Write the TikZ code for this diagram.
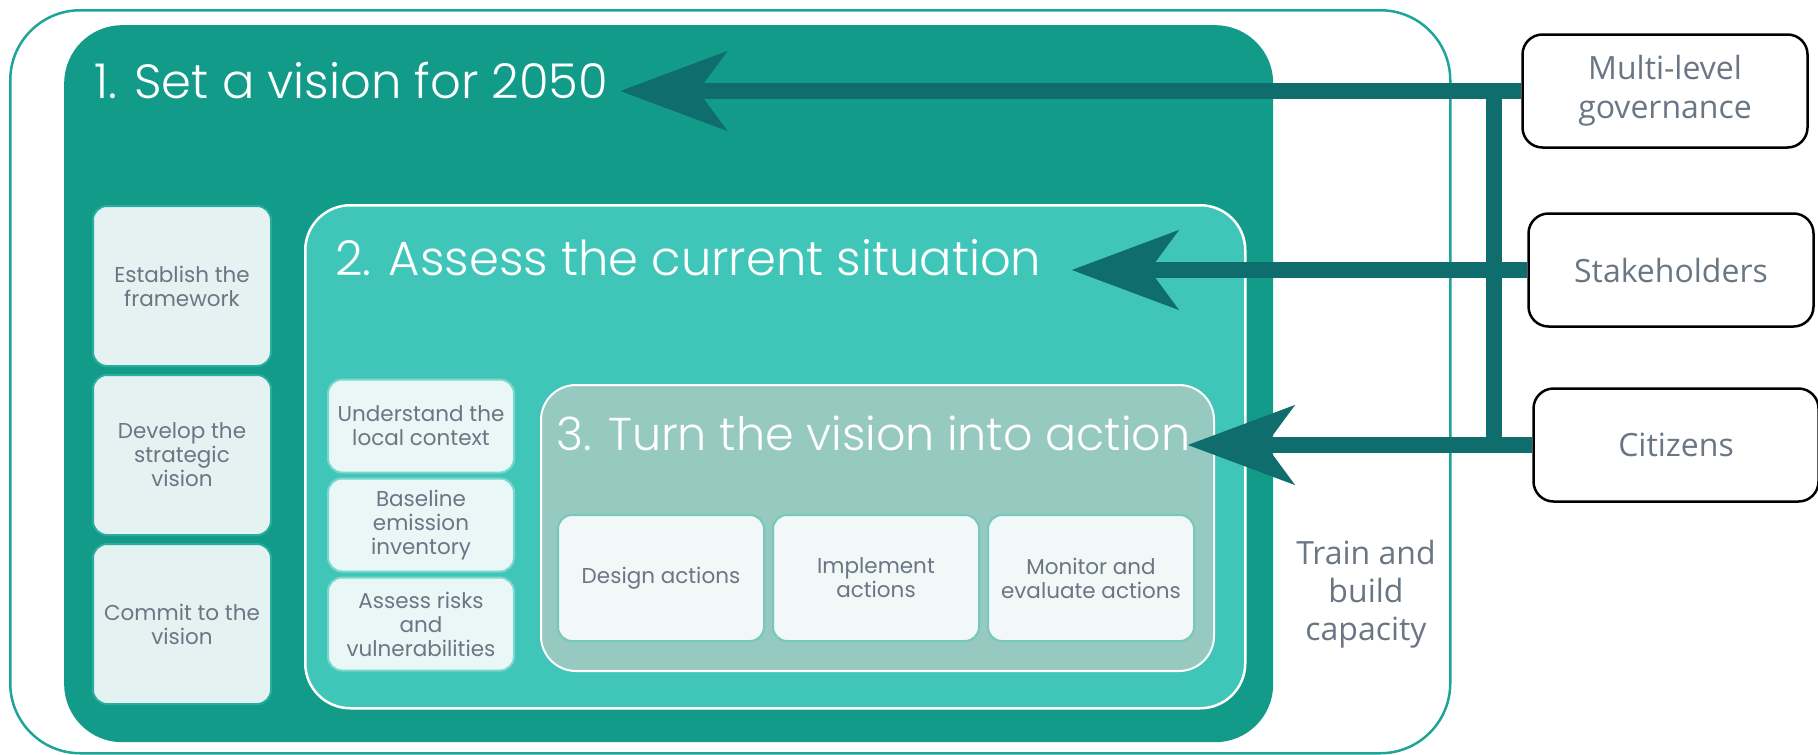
\documentclass[tikz,border=0pt]{standalone}
\usepackage{fontspec}
\setmainfont{Poppins}
\newfontfamily\lightfont{Poppins Light}
\newfontfamily\opensans{Open Sans}
\usetikzlibrary{arrows.meta,positioning}

\definecolor{framecol}{HTML}{1FA597}
\definecolor{deepteal}{HTML}{139B8A}
\definecolor{midteal}{HTML}{40C6B8}
\definecolor{greyteal}{HTML}{96C9BF}
\definecolor{arrowteal}{HTML}{0F6D6D}
\definecolor{boxtext}{HTML}{6B7685}
\definecolor{paleA}{HTML}{E4F2F1}
\definecolor{paleB}{HTML}{E9F7F6}
\definecolor{paleC}{HTML}{F2F8F8}

\begin{document}
\begin{tikzpicture}[x=1pt,y=-1pt]
\tikzstyle{panel}=[rectangle,anchor=north west,inner sep=0pt]
\tikzstyle{title}=[anchor=base west,inner sep=0pt,text=white,
font=\lightfont\fontsize{48}{58}\selectfont]
\tikzstyle{stepbox}=[rectangle,rounded corners=14pt,line width=2pt,
text=boxtext,align=center,font=\fontsize{21.5}{24}\selectfont]
\tikzstyle{actor}=[rectangle,rounded corners=20pt,draw=black,line width=2.5pt,
fill=white,text=boxtext,align=center,minimum width=285pt,minimum height=113pt,
font=\opensans\fontsize{32}{39}\selectfont]
\tikzstyle{link}=[draw=arrowteal,line width=16pt,
-{Stealth[length=106pt,width=78pt,inset=28pt]}]
\tikzstyle{wire}=[draw=arrowteal,line width=16pt]

\useasboundingbox (0,0) rectangle (1818,755);

% nested stages
\node[panel,draw=framecol,line width=2.5pt,fill=white,rounded corners=70pt,
minimum width=1440pt,minimum height=743pt] (frame) at (9,9) {};
\node[panel,fill=deepteal,rounded corners=58pt,
minimum width=1209pt,minimum height=717pt] (p1) at (64,25) {};
\node[panel,fill=midteal,draw=white,line width=2.5pt,rounded corners=45pt,
minimum width=940pt,minimum height=503pt] (p2) at (304,204) {};
\node[panel,fill=greyteal,draw=white,line width=2pt,rounded corners=35pt,
minimum width=673pt,minimum height=286pt] (p3) at (540,384) {};

% stage 1 steps
\node[stepbox,fill=paleA,draw=midteal!45!deepteal,minimum width=178pt,
minimum height=160pt,node distance=169pt] at (182,286) (est) {Establish the\\framework};
\node[stepbox,fill=paleA,draw=midteal!45!deepteal,minimum width=178pt,
minimum height=160pt,node distance=169pt,below of=est] (dev) {Develop the\\strategic\\vision};
\node[stepbox,fill=paleA,draw=midteal!45!deepteal,minimum width=178pt,
minimum height=160pt,node distance=169pt,below of=dev] (com) {Commit to the\\vision};

% stage 2 steps
\node[stepbox,fill=paleB,draw=midteal!70!white,minimum width=186pt,
minimum height=93pt,node distance=99pt] at (421,426) (ctx) {Understand the\\local context};
\node[stepbox,fill=paleB,draw=midteal!70!white,minimum width=186pt,
minimum height=93pt,node distance=99pt,below of=ctx] (base) {Baseline\\emission\\inventory};
\node[stepbox,fill=paleB,draw=midteal!70!white,minimum width=186pt,
minimum height=93pt,node distance=99pt,below of=base] (risk) {Assess risks\\and\\vulnerabilities};

% stage 3 steps
\node[stepbox,fill=paleC,draw=greyteal!60!midteal,minimum width=206pt,
minimum height=126pt,node distance=215pt] at (661,578) (des) {Design actions};
\node[stepbox,fill=paleC,draw=greyteal!60!midteal,minimum width=206pt,
minimum height=126pt,node distance=215pt,right of=des] (imp) {Implement\\actions};
\node[stepbox,fill=paleC,draw=greyteal!60!midteal,minimum width=206pt,
minimum height=126pt,node distance=215pt,right of=imp] (mon) {Monitor and\\evaluate actions};

% titles
\node[title] at (94,98) (t1) {1. Set a vision for 2050};
\node[title] at (335,275) (t2) {2. Assess the current situation};
\node[title,font=\lightfont\fontsize{46}{56}\selectfont] at (556,450) (t3) {3. Turn the vision into action};

\node[text=boxtext,align=center,font=\opensans\fontsize{32}{38}\selectfont]
at (1366,594) (train) {Train and\\build\\capacity};

% actors
\node[actor] at (1665,91) (mlg) {Multi-level\\governance};
\node[actor,node distance=179pt,below of=mlg,xshift=6pt] (stk) {Stakeholders};
\node[actor,node distance=175pt,below of=stk,xshift=5pt] (cit) {Citizens};

\draw[wire] ([xshift=-27pt]mlg.west) -- ([xshift=-27pt]mlg.west |- cit.west);
\draw[link] (mlg.west) -- ([xshift=12pt]t1.east |- mlg.west);
\draw[link] (stk.west) -- ([xshift=30pt]t2.east |- stk.west);
\draw[link] (cit.west) -- ([xshift=-3pt]t3.east |- cit.west);

\end{tikzpicture}
\end{document}
